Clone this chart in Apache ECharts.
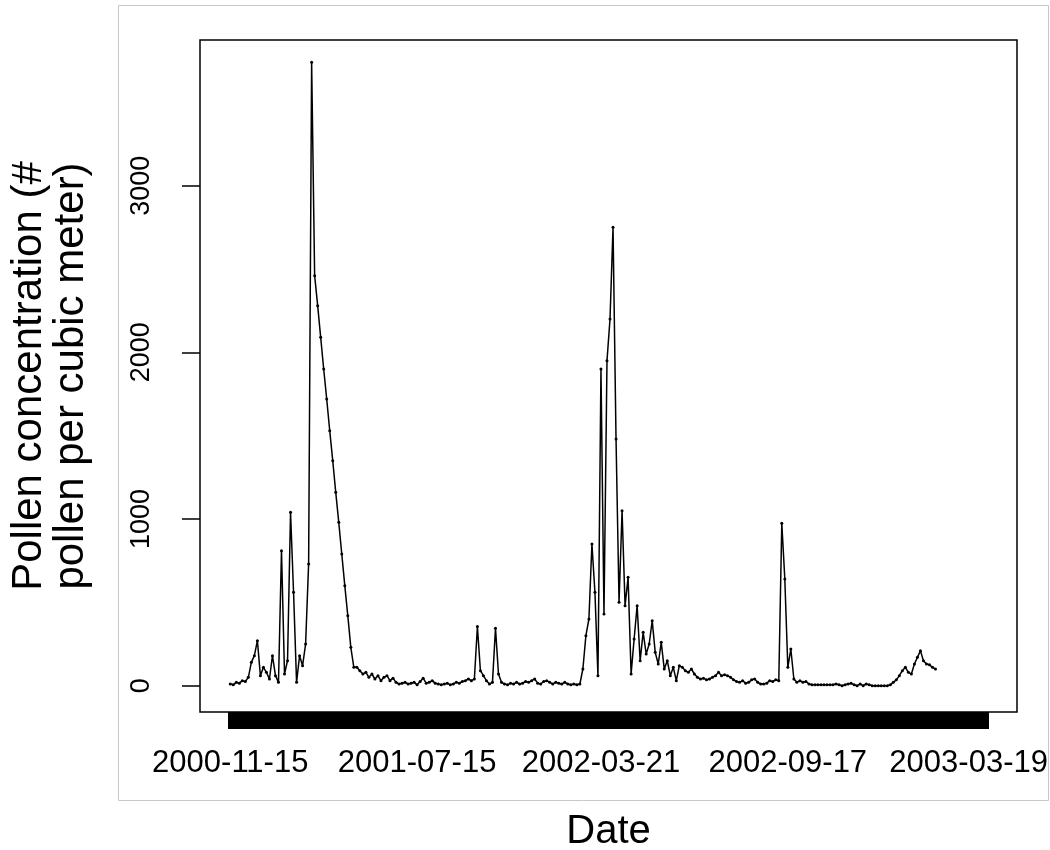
<!DOCTYPE html>
<html><head><meta charset="utf-8">
<script src="https://cdn.jsdelivr.net/npm/echarts@6/dist/echarts.min.js"></script>
<style>html,body{margin:0;padding:0;background:#fff}#c{width:1050px;height:850px}</style>
</head><body><div id="c"></div>
<script>
const pollen = [
  10, 5, 20, 15, 30, 25, 50, 140, 180, 270,
  60, 110, 80, 40, 180, 60, 20, 810, 70, 150,
  1040, 560, 20, 180, 120, 250, 730, 3740, 2460, 2280,
  2090, 1900, 1720, 1530, 1350, 1160, 980, 790, 600, 420,
  230, 110, 110, 90, 70, 80, 50, 70, 40, 60,
  30, 50, 60, 30, 45, 20, 10, 15, 20, 10,
  15, 20, 5, 25, 45, 15, 20, 30, 15, 10,
  5, 10, 15, 5, 10, 20, 15, 25, 30, 40,
  30, 40, 355, 90, 60, 30, 10, 20, 345, 70,
  20, 10, 5, 15, 10, 20, 10, 15, 25, 20,
  30, 40, 15, 10, 25, 30, 20, 10, 20, 15,
  10, 20, 10, 5, 10, 5, 10, 100, 300, 400,
  850, 560, 60, 1900, 430, 1950, 2200, 2750, 1480, 500,
  1050, 480, 650, 70, 280, 480, 150, 320, 190, 250,
  390, 200, 130, 260, 100, 150, 60, 110, 30, 120,
  110, 90, 80, 100, 70, 50, 40, 45, 35, 40,
  50, 60, 80, 60, 65, 60, 50, 35, 25, 20,
  30, 15, 20, 35, 40, 20, 10, 10, 15, 30,
  25, 35, 30, 975, 640, 110, 220, 40, 20, 30,
  20, 25, 10, 5, 5, 5, 5, 5, 5, 5,
  5, 10, 5, 0, 5, 10, 15, 5, 0, 10,
  0, 10, 5, 0, 0, 0, 0, 0, 0, 5,
  20, 35, 60, 90, 110, 80, 70, 130, 170, 210,
  150, 130, 125, 110, 100,
  null, null, null, null, null, null, null, null, null, null,
  null, null, null, null, null, null, null
];
const xTickIndex = [0, 62, 123, 185, 245];
const xTickLabels = ['2000-11-15', '2001-07-15', '2002-03-21', '2002-09-17', '2003-03-19'];
const yTicks = [0, 1000, 2000, 3000];
const yTickLabels = ['0', '1000', '2000', '3000'];

const chart = echarts.init(document.getElementById('c'), null, {renderer: 'canvas'});
const last = pollen.length - 1;
const pad = 0.04 * last;
const FONT = 'Liberation Sans, Arial, sans-serif';
const option = {
  animation: false,
  backgroundColor: '#ffffff',
  graphic: [{
    type: 'rect', z: -10, silent: true,
    shape: {x: 118.5, y: 5.5, width: 930, height: 795},
    style: {fill: 'none', stroke: '#c8c8c8', lineWidth: 1}
  }],
  grid: {left: 200, right: 33, top: 40, bottom: 138, show: true, containLabel: false,
         outerBoundsMode: 'none',
         borderColor: '#000', borderWidth: 1.5, backgroundColor: 'transparent'},
  xAxis: {
    type: 'value', min: -pad, max: last + pad,
    name: 'Date', nameLocation: 'middle', nameGap: 100,
    nameTextStyle: {fontFamily: FONT, fontSize: 40, color: '#000'},
    axisLine: {show: false, onZero: false}, splitLine: {show: false},
    axisTick: {show: true, length: 17, customValues: pollen.map((_, i) => i),
               lineStyle: {color: '#000', width: 5}},
    axisLabel: {customValues: xTickIndex, margin: 36, fontFamily: FONT, fontSize: 31, color: '#000',
                formatter: v => xTickLabels[xTickIndex.indexOf(Math.round(v))]}
  },
  yAxis: {
    type: 'value', min: -158, max: 3874,
    name: 'Pollen concentration (#\npollen per cubic meter)', nameLocation: 'middle', nameGap: 108,
    nameRotate: 90,
    nameTextStyle: {fontFamily: FONT, fontSize: 42, lineHeight: 42, color: '#000'},
    axisLine: {show: false, onZero: false}, splitLine: {show: false},
    axisTick: {show: true, length: 18, customValues: yTicks, lineStyle: {color: '#000', width: 1.5}},
    axisLabel: {customValues: yTicks, rotate: 90, margin: 45, fontFamily: FONT, fontSize: 27, color: '#000',
                formatter: v => yTickLabels[yTicks.indexOf(Math.round(v))]}
  },
  series: [{
    type: 'line',
    data: pollen.map((v, i) => [i, v]),
    connectNulls: false,
    showSymbol: true, symbol: 'circle', symbolSize: 3,
    itemStyle: {color: '#000'},
    lineStyle: {color: '#000', width: 1.5}
  }]
};
chart.setOption(option);
</script>
</body></html>
